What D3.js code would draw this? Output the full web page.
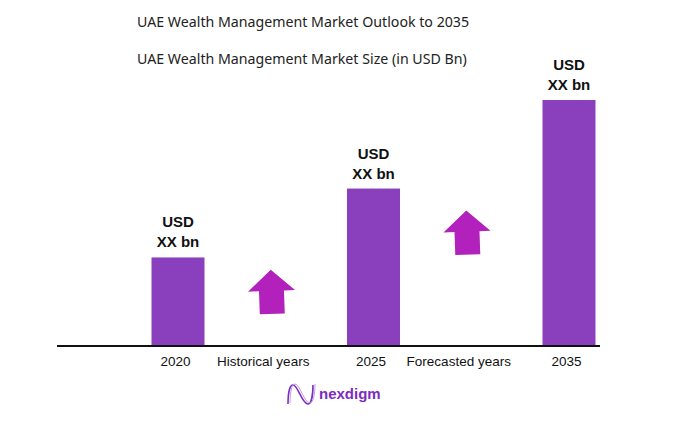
<!DOCTYPE html>
<html>
<head>
<meta charset="utf-8">
<script src="https://cdn.jsdelivr.net/npm/d3@7"></script>
<style>
  body { margin: 0; background: #fff; }
  svg { display: block; }
</style>
</head>
<body>
<div id="chart"></div>
<script>
// Chart data
const years = ['2020', '2025', '2035'];
const marketSize = [36, 64, 100];          // relative bar heights (values shown as "XX")
const valueLabels = ['USD', 'XX bn'];
const periodLabels = ['Historical years', 'Forecasted years'];
const tickLabels = ['2020', 'Historical years', '2025', 'Forecasted years', '2035'];

const width = 696;
const height = 429;
const baseline = 346;

const svg = d3.select('#chart')
    .append('svg')
    .attr('width', width)
    .attr('height', height);

// Titles
svg.append('text')
    .attr('x', 137)
    .attr('y', 27)
    .attr('font-family', 'Noto Sans, sans-serif')
    .attr('font-size', 14.2)
    .attr('fill', '#222')
    .text('UAE Wealth Management Market Outlook to 2035');

svg.append('text')
    .attr('x', 137)
    .attr('y', 64)
    .attr('font-family', 'Noto Sans, sans-serif')
    .attr('font-size', 14.2)
    .attr('fill', '#222')
    .text('UAE Wealth Management Market Size (in USD Bn)');

// Scales
const x = d3.scalePoint()
    .domain(tickLabels)
    .range([178, 569]);

const y = d3.scaleLinear()
    .domain([0, 100])
    .range([baseline, 100]);

const barWidth = 53;

// Bars
svg.selectAll('rect.bar')
    .data(years)
    .enter()
    .append('rect')
    .attr('class', 'bar')
    .attr('x', d => x(d) - barWidth / 2)
    .attr('y', (d, i) => y(marketSize[i]))
    .attr('width', barWidth)
    .attr('height', (d, i) => baseline - y(marketSize[i]))
    .attr('fill', '#8a3fbc');

// Value labels above bars
years.forEach((d, i) => {
    const top = y(marketSize[i]);
    valueLabels.forEach((t, j) => {
        svg.append('text')
            .attr('x', x(d))
            .attr('y', top - 30 + j * 20)
            .attr('text-anchor', 'middle')
            .attr('font-family', 'Liberation Sans, Arial, sans-serif')
            .attr('font-weight', 'bold')
            .attr('font-size', 15)
            .attr('fill', '#111')
            .text(t);
    });
});

// Growth arrows between bars
const arrowPath = 'M0,0 L23.5,21 L12.5,21 L12.5,44 L-12.5,44 L-12.5,21 L-23.5,21 Z';
periodLabels.forEach((p, i) => {
    const cx = x(p) - 5;
    const tip = y(marketSize[i] * 0.86);
    svg.append('path')
        .attr('d', arrowPath)
        .attr('transform', `translate(${cx},${tip}) rotate(-2)`)
        .attr('fill', '#b221bc');
});

// Axis
const axis = svg.append('g')
    .attr('transform', `translate(0,${baseline})`)
    .call(d3.axisBottom(x).tickSize(0).tickPadding(10));

axis.select('.domain').remove();
axis.selectAll('text')
    .attr('font-family', 'Liberation Sans, Arial, sans-serif')
    .attr('font-size', 13.5)
    .attr('fill', '#111')
    .attr('dx', d => periodLabels.includes(d) ? -13 : -3);

svg.append('line')
    .attr('x1', 57)
    .attr('x2', 600)
    .attr('y1', baseline)
    .attr('y2', baseline)
    .attr('stroke', '#111')
    .attr('stroke-width', 2);

// Logo
const logo = svg.append('g').attr('transform', 'translate(287,384)');
const wave = 'M1,20 C1,8 3,1 6,1 C11,1 15,20 21,20 C24,20 26,12 26,1';
logo.append('path')
    .attr('d', wave)
    .attr('fill', 'none')
    .attr('stroke', '#7b2fc0')
    .attr('stroke-width', 1.6);
logo.append('path')
    .attr('d', wave)
    .attr('transform', 'translate(2,-1)')
    .attr('fill', 'none')
    .attr('stroke', '#c79be6')
    .attr('stroke-width', 1);

svg.append('text')
    .attr('x', 319)
    .attr('y', 399)
    .attr('font-family', 'Liberation Sans, Arial, sans-serif')
    .attr('font-weight', 'bold')
    .attr('font-size', 15)
    .attr('fill', '#7d2ac1')
    .text('nexdigm');
</script>
</body>
</html>
